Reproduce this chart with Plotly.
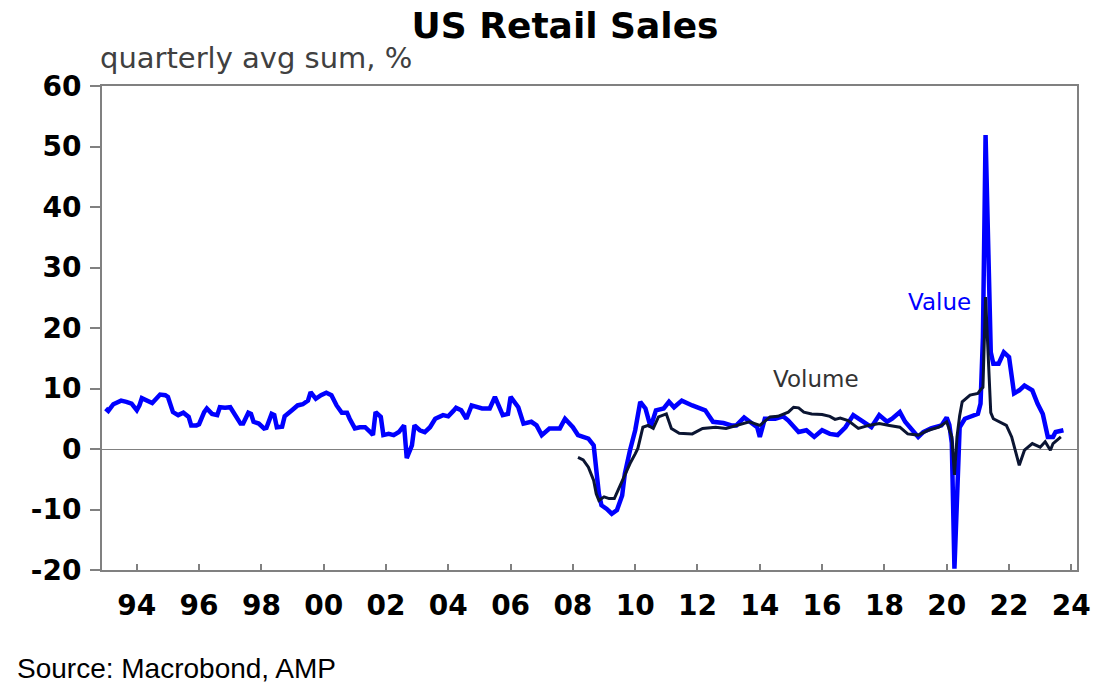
import plotly.graph_objects as go

# US retail sales, quarterly avg sum %
value_dates = [
    "1993-01", "1993-02", "1993-04", "1993-07", "1993-09", "1993-11",
    "1994-01", "1994-02", "1994-03", "1994-05", "1994-07", "1994-10", "1994-12",
    "1995-01", "1995-03", "1995-05", "1995-07", "1995-09", "1995-10", "1995-12",
    "1996-01", "1996-03", "1996-04", "1996-06", "1996-08", "1996-09", "1996-11",
    "1997-01", "1997-03", "1997-05", "1997-06", "1997-08", "1997-09", "1997-10", "1997-12",
    "1998-02", "1998-03", "1998-05", "1998-06", "1998-07", "1998-09", "1998-10",
    "1999-01", "1999-03", "1999-05", "1999-07", "1999-08", "1999-10", "1999-12",
    "2000-02", "2000-04", "2000-06", "2000-08", "2000-10", "2000-11",
    "2001-01", "2001-03", "2001-05", "2001-07", "2001-08", "2001-09", "2001-11", "2001-12",
    "2002-02", "2002-04", "2002-06", "2002-08", "2002-09", "2002-11", "2002-12",
    "2003-02", "2003-04", "2003-06", "2003-08", "2003-11",
    "2004-01", "2004-03", "2004-04", "2004-06", "2004-08", "2004-10",
    "2005-02", "2005-05", "2005-07", "2005-10", "2005-12",
    "2006-01", "2006-04", "2006-06", "2006-09", "2006-11",
    "2007-01", "2007-04", "2007-08", "2007-10",
    "2008-01", "2008-03", "2008-07", "2008-09", "2008-10", "2008-11", "2008-12",
    "2009-02", "2009-04", "2009-06", "2009-08", "2009-09", "2009-11",
    "2010-01", "2010-03", "2010-05", "2010-07", "2010-09", "2010-12",
    "2011-02", "2011-04", "2011-07", "2011-11",
    "2012-04", "2012-07", "2012-11",
    "2013-02", "2013-04", "2013-07", "2013-10", "2013-12",
    "2014-01", "2014-03", "2014-07", "2014-10", "2014-12",
    "2015-04", "2015-07", "2015-10",
    "2016-01", "2016-04", "2016-07", "2016-10",
    "2017-01", "2017-04", "2017-08", "2017-11",
    "2018-02", "2018-04", "2018-07", "2018-09", "2018-12",
    "2019-02", "2019-04", "2019-07", "2019-11",
    "2020-01", "2020-02", "2020-03", "2020-04", "2020-05", "2020-06", "2020-08", "2020-10",
    "2021-01", "2021-02", "2021-03", "2021-04", "2021-05", "2021-06", "2021-07", "2021-09", "2021-11",
    "2022-01", "2022-03", "2022-05", "2022-07", "2022-10", "2022-12",
    "2023-02", "2023-04", "2023-06", "2023-07", "2023-10",
]
value_pct = [
    6.7, 6.3, 7.4, 8.0, 7.8, 7.5,
    6.4, 7.2, 8.4, 8.0, 7.6, 9.0, 8.9,
    8.6, 6.1, 5.6, 6.0, 5.3, 3.9, 3.9,
    4.1, 6.1, 6.7, 5.8, 5.6, 6.9, 6.8,
    6.9, 5.6, 4.2, 4.2, 6.0, 5.8, 4.5, 4.2,
    3.4, 3.5, 5.8, 5.6, 3.6, 3.7, 5.4,
    6.5, 7.2, 7.4, 8.0, 9.4, 8.3, 8.9,
    9.3, 8.9, 7.2, 6.0, 6.0, 5.0,
    3.4, 3.6, 3.6, 2.8, 2.3, 6.1, 5.3, 2.3,
    2.5, 2.3, 2.8, 3.9, -1.5, 0.6, 3.9,
    3.1, 2.8, 3.6, 5.0, 5.6,
    5.4, 6.3, 6.8, 6.4, 5.0, 7.2,
    6.7, 6.7, 8.6, 5.6, 5.8,
    8.6, 6.9, 4.2, 4.5, 3.9,
    2.3, 3.4, 3.4, 5.0,
    3.6, 2.3, 1.7, 0.6, -3.0, -7.4, -9.3,
    -9.9, -10.7, -10.1, -7.7, -4.1, -0.2,
    3.1, 7.8, 6.7, 3.6, 6.4, 6.7,
    7.8, 6.9, 8.0, 7.2,
    6.4, 4.5, 4.3,
    3.9, 3.9, 5.2, 4.2, 3.6,
    2.0, 5.0, 5.0, 5.4, 4.7,
    2.8, 3.1, 2.0,
    3.1, 2.5, 2.3, 3.6,
    5.6, 4.7, 3.6, 5.6,
    4.5, 5.0, 6.1, 4.5, 3.1,
    2.0, 2.8, 3.4, 3.9,
    5.2, 4.0, 1.0, -19.8, -9.0, 3.6, 5.0, 5.3,
    5.8, 7.5, 18.5, 51.9, 33.0, 16.0, 14.1, 14.1, 16.0,
    15.2, 9.2, 9.7, 10.5, 9.7, 7.5,
    5.8, 2.0, 2.0, 2.8, 3.1,
]

volume_dates = [
    "2008-03", "2008-05", "2008-07", "2008-09", "2008-10", "2008-11",
    "2009-01", "2009-03", "2009-05", "2009-07", "2009-09", "2009-11",
    "2010-01", "2010-02", "2010-04", "2010-06", "2010-08", "2010-10",
    "2011-01", "2011-03", "2011-06", "2011-11",
    "2012-03", "2012-08", "2012-12",
    "2013-04", "2013-09",
    "2014-01", "2014-05", "2014-08", "2014-12",
    "2015-02", "2015-04", "2015-06", "2015-09",
    "2016-01", "2016-04", "2016-06", "2016-08", "2016-11",
    "2017-03", "2017-07", "2017-11",
    "2018-03", "2018-07", "2018-10",
    "2019-02", "2019-06", "2019-10",
    "2020-01", "2020-03", "2020-04", "2020-05", "2020-06", "2020-07", "2020-10",
    "2021-01", "2021-02", "2021-03", "2021-04", "2021-05", "2021-06", "2021-07", "2021-09", "2021-12",
    "2022-02", "2022-04", "2022-05", "2022-07", "2022-10",
    "2023-01", "2023-03", "2023-05", "2023-06", "2023-09",
]
volume_pct = [
    -1.4, -1.8, -3.0, -5.2, -7.4, -8.5,
    -7.9, -8.2, -8.2, -6.3, -4.1, -2.4,
    -0.8, 0.1, 3.6, 3.9, 3.4, 5.3,
    5.8, 3.4, 2.6, 2.5,
    3.4, 3.6, 3.4,
    3.9, 4.5,
    3.9, 5.3, 5.4, 6.1,
    6.9, 6.8, 6.1, 5.8,
    5.7, 5.4, 4.9, 5.1, 4.7,
    3.4, 3.9, 4.2,
    3.9, 3.6, 2.5,
    2.3, 3.1, 3.6,
    4.5, 2.0, -4.3, 2.0, 5.5, 7.8, 8.9,
    9.2, 9.8, 10.2, 25.1, 15.0, 6.0, 5.0, 4.5, 3.9,
    2.0, -1.3, -2.7, -0.2, 0.9,
    0.3, 1.2, -0.2, 0.9, 2.0,
]

y_ticks = [-20, -10, 0, 10, 20, 30, 40, 50, 60]
y_labels = ["-20", "-10", "0", "10", "20", "30", "40", "50", "60"]

assert len(value_dates) == len(value_pct)
assert len(volume_dates) == len(volume_pct)

BLUE = "#0000ff"
NAVY = "#0b1532"
FRAME = "#808080"
bold_font = dict(family="DejaVu Sans", size=28, color="black", weight="bold")

fig = go.Figure()
fig.add_trace(go.Scatter(x=value_dates, y=value_pct, mode="lines", name="Value",
                         line=dict(color=BLUE, width=4.5)))
fig.add_trace(go.Scatter(x=volume_dates, y=volume_pct, mode="lines", name="Volume",
                         line=dict(color=NAVY, width=3)))

fig.update_layout(
    width=1116, height=700,
    margin=dict(l=102, r=39, t=86, b=130),
    paper_bgcolor="white", plot_bgcolor="white",
    showlegend=False,
    title=dict(text="<b>US Retail Sales</b>", x=0.5063, xanchor="center",
               y=0.9643, yanchor="middle", yref="container",
               font=dict(family="DejaVu Sans", size=36, color="black")),
)

fig.update_xaxes(
    type="date", range=["1992-11-19", "2024-03-08"],
    tick0="1994-01-01", dtick="M24", tickformat="%y",
    ticks="inside", ticklen=6, tickwidth=1.5, tickcolor=FRAME,
    showline=True, linecolor=FRAME, linewidth=2, mirror=True,
    showgrid=False, zeroline=False,
    tickfont=bold_font, ticklabelstandoff=9,
)
fig.update_yaxes(
    range=[-20, 60], tickvals=y_ticks, ticktext=y_labels,
    ticks="outside", ticklen=10, tickwidth=1.5, tickcolor=FRAME,
    showline=True, linecolor=FRAME, linewidth=2, mirror=True,
    showgrid=False, zeroline=True, zerolinecolor=FRAME, zerolinewidth=1,
    tickfont=bold_font, ticklabelstandoff=3,
)

# subtitle, source and series labels
fig.add_annotation(text="quarterly avg sum, %", xref="paper", yref="paper",
                   x=-0.004, y=1.058, xanchor="left", yanchor="middle", showarrow=False,
                   font=dict(family="DejaVu Sans", size=29, color="#404040"))
fig.add_annotation(text="Source: Macrobond, AMP", xref="paper", yref="paper",
                   x=-0.089, y=-0.2025, xanchor="left", yanchor="middle", showarrow=False,
                   font=dict(family="Liberation Sans", size=28, color="black"))
fig.add_annotation(text="Value", x="2019-10-08", y=24.3, showarrow=False,
                   font=dict(family="DejaVu Sans", size=23, color=BLUE))
fig.add_annotation(text="Volume", x="2015-10-20", y=11.5, showarrow=False,
                   font=dict(family="DejaVu Sans", size=23, color="#333333"))

# drop the browser's default 8px body margin so the figure fills the window
fig.write_html("out.html", config={"displayModeBar": False},
               post_script="document.body.style.margin = '0';")
